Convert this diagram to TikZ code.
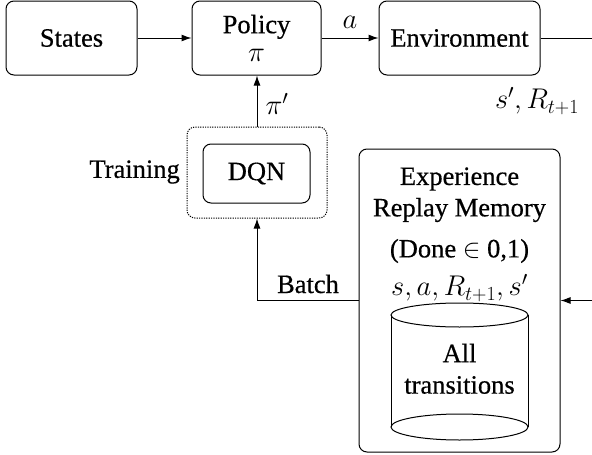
\RequirePackage{fix-cm}
\documentclass[tikz,border=0pt]{standalone}
\usepackage{fontspec}
\setmainfont{Liberation Serif}[FakeBold=0.5]
\usetikzlibrary{arrows.meta}
\newcommand{\mth}[1]{{\fontsize{28.5}{32}\selectfont$#1$}}
\begin{document}
\begin{tikzpicture}[x=1pt,y=-1pt,
  every node/.style={font=\fontsize{26.5}{30}\selectfont},
  rbox/.style={draw,line width=1pt,rounded corners=8pt,inner sep=0pt,align=center},
  conn/.style={line width=1pt},
  arr/.style={line width=1pt,-{Latex[length=10pt,width=7pt]}},
  lbl/.style={inner sep=0pt}]
\useasboundingbox (0,0) rectangle (592,455);
\node[rbox,minimum width=131pt,minimum height=74pt] (states) at (71.5,38) {States};
\node[rbox,minimum width=129pt,minimum height=74pt] (policy) at (256.5,38) {Policy\\[-2pt]\mth{\pi}};
\node[rbox,minimum width=161pt,minimum height=74pt] (env) at (459.5,38) {Environment};
\node[rbox,dash pattern=on 1.2pt off 1.2pt,minimum width=140pt,minimum height=91pt] (train) at (257,172.5) {};
\node[rbox,minimum width=107pt,minimum height=59pt] (dqn) at (256.5,173.5) {DQN};
\node[lbl,anchor=east] (traininglbl) at (180,172) {Training};
\node[rbox,minimum width=201pt,minimum height=303pt] (mem) at (459.5,300.5) {};
\node[lbl] (exp) at (459.5,179) {Experience};
\node[lbl] (rep) at (459.5,210) {Replay Memory};
\node[lbl] (done) at (459.5,251) {(Done $\in$ 0,1)};
\node[lbl] (tuple) at (459.5,288) {\mth{s,a,R_{t+1},s'}};
% cylinder
\draw[conn] (459.5,315) ellipse [x radius=68.5pt,y radius=12pt];
\draw[conn] (459.5,427) ellipse [x radius=68.5pt,y radius=13pt];
\draw[conn] (391,315) -- (391,427);
\draw[conn] (528,315) -- (528,427);
\node[lbl] (all) at (459.5,353) {All};
\node[lbl] (trans) at (459.5,385) {transitions};
% connectors
\coordinate (envout) at (592,38);
\coordinate (memin) at (592,300.5);
\draw[arr] (states) -- (policy);
\draw[arr] (policy) -- node[lbl,above=9pt] (alabel) {\mth{a}} (env);
\draw[conn] (env) -- (envout);
\draw[arr] (memin) -- (mem.east);
\draw[arr] (train.north) -- (train.north |- policy.south);
\node[lbl] (pilabel) at (277,104) {\mth{\pi'}};
\node[lbl] (slabel) at (537,101) {\mth{s',R_{t+1}}};
\draw[arr] (mem.west) -| (train.south);
\node[lbl,anchor=base] (batch) at (308,293) {Batch};
\end{tikzpicture}
\end{document}
